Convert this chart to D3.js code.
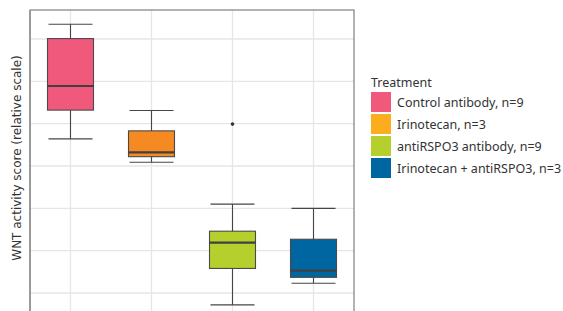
<!DOCTYPE html>
<html>
<head>
<meta charset="utf-8">
<script src="https://cdn.jsdelivr.net/npm/d3@7"></script>
<style>
body{margin:0;background:#fff}
</style>
</head>
<body>
<script>
var groups=["Control antibody, n=9","Irinotecan, n=3","antiRSPO3 antibody, n=9","Irinotecan + antiRSPO3, n=3"]
var lowWhisker=[3.64,3.09,-0.28,0.23]
var q1=[4.32,3.22,0.58,0.37]
var median=[4.89,3.32,1.19,0.53]
var q3=[6.01,3.83,1.46,1.27]
var highWhisker=[6.35,4.31,2.10,2.00]
var outliers=[{g:2,v:3.99}]
var gridValues=[0,1,2,3,4,5,6]
var boxColors=["#f0597b","#f58a23","#b5cf2d","#0066a1"]
var legendColors=["#f0597b","#fbad1d","#b5cf2d","#0066a1"]

var data=groups.map(function(g,i){
  return {name:g,lo:lowWhisker[i],q1:q1[i],med:median[i],q3:q3[i],hi:highWhisker[i]}
})

var screen={width:563,height:311}
var panel={left:30,right:354,top:10,bottom:340}
var svg=d3.select("body").append("svg").attr("width",screen.width).attr("height",screen.height)

var xScale=d3.scalePoint().domain(groups).range([panel.left,panel.right]).padding(0.5)
var yScale=d3.scaleLinear().domain([-1,7]).range([335.33,-3.33])
var boxW=46

// grid
svg.append("g").selectAll("line").data(gridValues).enter().append("line")
   .attr("x1",panel.left).attr("x2",panel.right)
   .attr("y1",function(d){return yScale(d)}).attr("y2",function(d){return yScale(d)})
   .style("stroke","#e6e6e6").style("stroke-width",1.3)
svg.append("g").selectAll("line").data(groups).enter().append("line")
   .attr("x1",function(d){return xScale(d)}).attr("x2",function(d){return xScale(d)})
   .attr("y1",panel.top).attr("y2",panel.bottom)
   .style("stroke","#e6e6e6").style("stroke-width",1.3)

// panel border
svg.append("rect").attr("x",panel.left).attr("y",panel.top)
   .attr("width",panel.right-panel.left).attr("height",panel.bottom-panel.top)
   .attr("fill","none").style("stroke","#666").style("stroke-width",1)
svg.append("line").attr("x1",panel.left).attr("x2",panel.left).attr("y1",panel.top).attr("y2",panel.bottom)
   .style("stroke","#9a9a9a").style("stroke-width",2)

var boxes=svg.append("g").selectAll("g").data(data).enter().append("g")
// whisker stems
boxes.append("line")
   .attr("x1",function(d){return xScale(d.name)}).attr("x2",function(d){return xScale(d.name)})
   .attr("y1",function(d){return yScale(d.hi)}).attr("y2",function(d){return yScale(d.lo)})
   .style("stroke","#4a4346").style("stroke-width",1.1)
// caps
boxes.append("line")
   .attr("x1",function(d){return xScale(d.name)-boxW/2+1}).attr("x2",function(d){return xScale(d.name)+boxW/2-1})
   .attr("y1",function(d){return yScale(d.hi)}).attr("y2",function(d){return yScale(d.hi)})
   .style("stroke","#4a4346").style("stroke-width",1.1)
boxes.append("line")
   .attr("x1",function(d){return xScale(d.name)-boxW/2+1}).attr("x2",function(d){return xScale(d.name)+boxW/2-1})
   .attr("y1",function(d){return yScale(d.lo)}).attr("y2",function(d){return yScale(d.lo)})
   .style("stroke","#4a4346").style("stroke-width",1.1)
boxes.append("rect")
   .attr("x",function(d){return xScale(d.name)-boxW/2})
   .attr("y",function(d){return yScale(d.q3)})
   .attr("width",boxW)
   .attr("height",function(d){return yScale(d.q1)-yScale(d.q3)})
   .attr("fill",function(d,i){return boxColors[i]})
   .style("stroke","#4a4a4a").style("stroke-width",1.1)
boxes.append("line")
   .attr("x1",function(d){return xScale(d.name)-boxW/2}).attr("x2",function(d){return xScale(d.name)+boxW/2})
   .attr("y1",function(d){return yScale(d.med)}).attr("y2",function(d){return yScale(d.med)})
   .style("stroke","#404040").style("stroke-width",2.2)

svg.append("g").selectAll("circle").data(outliers).enter().append("circle")
   .attr("cx",function(d){return xScale(groups[d.g])}).attr("cy",function(d){return yScale(d.v)})
   .attr("r",1.8).style("fill","#333")

// y title
svg.append("text")
   .attr("transform","translate(20.5,158) rotate(-90)")
   .attr("text-anchor","middle")
   .style("font-family","DejaVu Sans").style("font-size","12px").style("fill","#333")
   .text("WNT activity score (relative scale)")

// legend
var legend=svg.append("g").attr("transform","translate(371,0)")
legend.append("text").attr("x",0).attr("y",86.5)
   .style("font-family","Noto Sans").style("font-size","12.5px").style("fill","#333")
   .text("Treatment")
var items=legend.selectAll("g.item").data(groups).enter().append("g").attr("class","item")
   .attr("transform",function(d,i){return "translate(0,"+(92+i*22)+")"})
items.append("rect").attr("width",20).attr("height",20)
   .attr("fill",function(d,i){return legendColors[i]})
items.append("text").attr("x",26).attr("y",14.5)
   .style("font-family","Noto Sans").style("font-size","12.5px").style("fill","#333")
   .text(function(d){return d})
</script>
</body>
</html>
